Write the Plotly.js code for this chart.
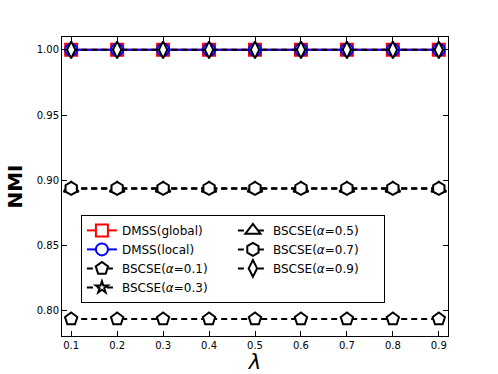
<!DOCTYPE html>
<html>
<head>
<meta charset="utf-8">
<script src="https://cdn.plot.ly/plotly-3.0.1.min.js"></script>
<style>
  body { margin: 0; }
  #grafico { width: 498px; height: 374px; }
</style>
</head>
<body>
<div id="grafico"></div>
<script>
// datos
var lambdas = [0.1, 0.2, 0.3, 0.4, 0.5, 0.6, 0.7, 0.8, 0.9];
var dmssGlobal = [1.0, 1.0, 1.0, 1.0, 1.0, 1.0, 1.0, 1.0, 1.0];
var dmssLocal = [1.0, 1.0, 1.0, 1.0, 1.0, 1.0, 1.0, 1.0, 1.0];
var bscse01 = [0.7936, 0.7936, 0.7936, 0.7936, 0.7936, 0.7936, 0.7936, 0.7936, 0.7936];
var bscse03 = [0.8937, 0.8937, 0.8937, 0.8937, 0.8937, 0.8937, 0.8937, 0.8937, 0.8937];
var bscse05 = [0.8937, 0.8937, 0.8937, 0.8937, 0.8937, 0.8937, 0.8937, 0.8937, 0.8937];
var bscse07 = [0.8937, 0.8937, 0.8937, 0.8937, 0.8937, 0.8937, 0.8937, 0.8937, 0.8937];
var bscse09 = [1.0, 1.0, 1.0, 1.0, 1.0, 1.0, 1.0, 1.0, 1.0];

var nombres = ["DMSS(global)", "DMSS(local)", "BSCSE(<i>α</i>=0.1)", "BSCSE(<i>α</i>=0.3)",
               "BSCSE(<i>α</i>=0.5)", "BSCSE(<i>α</i>=0.7)", "BSCSE(<i>α</i>=0.9)"];

// orden de la leyenda por columnas (como matplotlib)
var rangos = [1, 3, 5, 7, 2, 4, 6];

function serie(y, i, color, simbolo, tam, dash) {
  return {
    x: lambdas, y: y, name: nombres[i], legendrank: rangos[i],
    type: "scatter", mode: "lines+markers",
    line: {color: color, width: 2, dash: dash},
    marker: {symbol: simbolo, size: tam, color: "white", line: {color: color, width: 2}}
  };
}

var data = [
  serie(dmssGlobal, 0, "#ff0000", "square", 12, "solid"),
  serie(dmssLocal, 1, "#0000ff", "circle", 12, "solid"),
  serie(bscse01, 2, "black", "pentagon", 13, "6px,4px"),
  serie(bscse03, 3, "black", "star", 9, "6px,4px"),
  serie(bscse05, 4, "black", "triangle-up", 13, "6px,4px"),
  serie(bscse07, 5, "black", "hexagon", 13, "6px,4px"),
  serie(bscse09, 6, "black", "diamond-tall", 12, "6px,4px")
];

var layout = {
  width: 498, height: 374,
  margin: {l: 62, r: 50, t: 37, b: 38},
  paper_bgcolor: "white", plot_bgcolor: "white",
  font: {family: "DejaVu Sans", color: "black", size: 10},
  xaxis: {
    range: [0.08, 0.92], tickvals: lambdas, tickformat: ".1f",
    ticks: "inside", ticklen: 5, tickcolor: "black",
    showline: true, linecolor: "black", linewidth: 1, mirror: "ticks",
    showgrid: false, zeroline: false,
    title: {text: "<i>λ</i>", font: {size: 21}, standoff: 5}
  },
  yaxis: {
    range: [0.7806, 1.0098], tickvals: [0.80, 0.85, 0.90, 0.95, 1.00], tickformat: ".2f",
    ticks: "inside", ticklen: 5, tickcolor: "black",
    showline: true, linecolor: "black", linewidth: 1, mirror: "ticks",
    showgrid: false, zeroline: false,
    title: {text: "<b>NMI</b>", font: {size: 20}, standoff: 8}
  },
  showlegend: true,
  legend: {
    orientation: "h", x: 0.049, y: 0.405, xanchor: "left", yanchor: "top",
    entrywidth: 106, entrywidthmode: "pixels",
    bordercolor: "black", borderwidth: 1, bgcolor: "white",
    font: {size: 12}, tracegroupgap: 0
  }
};

Plotly.newPlot("grafico", data, layout, {displayModeBar: false});
</script>
</body>
</html>
